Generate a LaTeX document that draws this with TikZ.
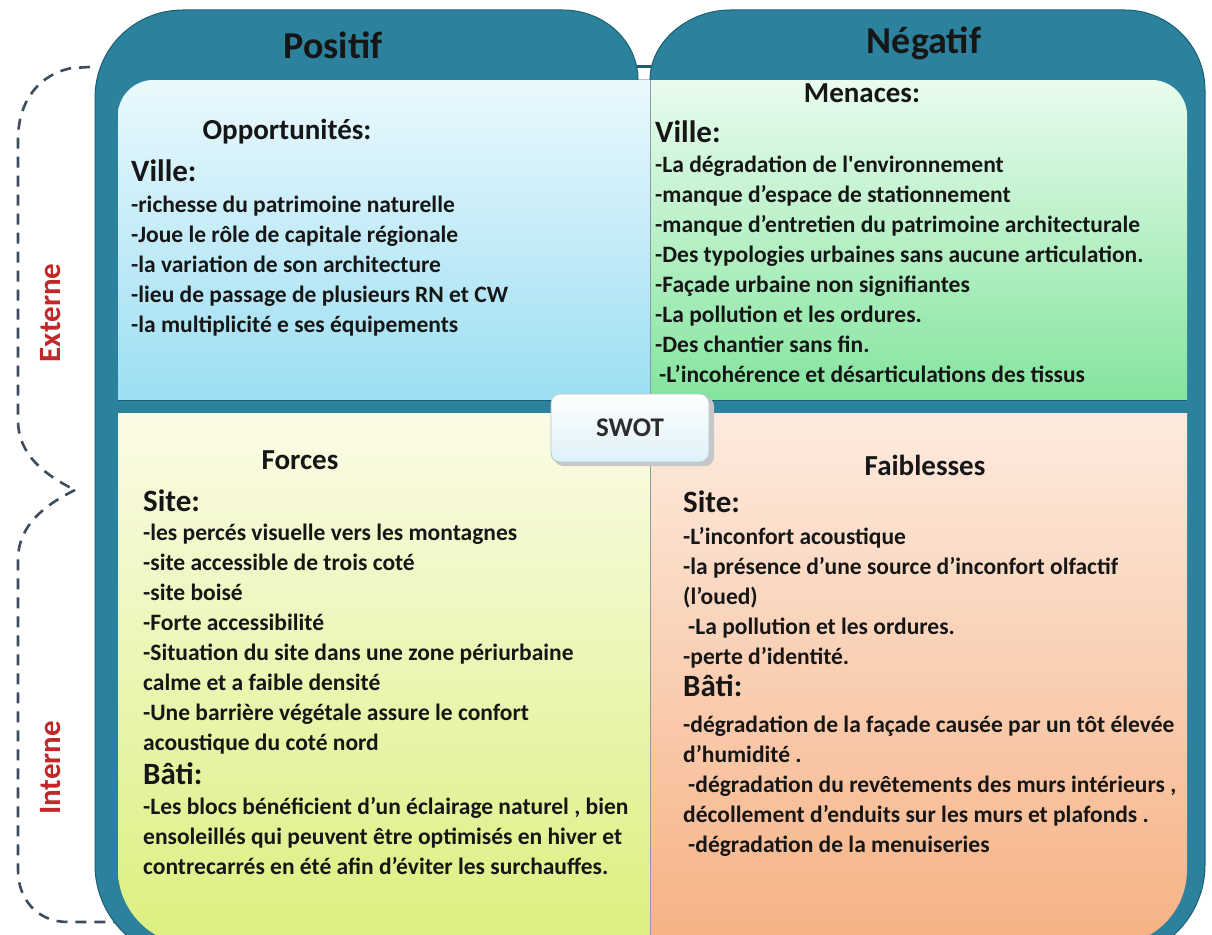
\documentclass[tikz,border=0pt]{standalone}
\usepackage{fontspec}
\setmainfont{Carlito}
\usepackage{xcolor}
\usepackage{tikz}
\definecolor{SWTeal}{HTML}{2C829C}
\definecolor{SWTealDark}{HTML}{1D5E71}
\definecolor{SWInk}{HTML}{161616}
\definecolor{SWRed}{HTML}{C0282A}
\definecolor{SWDash}{HTML}{3E4D5E}
\definecolor{SWLine}{HTML}{8C9CA2}
\definecolor{SWBlueTop}{HTML}{EAF9FD}
\definecolor{SWBlueBot}{HTML}{9CDEF2}
\definecolor{SWGreenTop}{HTML}{E9FCEE}
\definecolor{SWGreenBot}{HTML}{84E49E}
\definecolor{SWYellowTop}{HTML}{FBFBE6}
\definecolor{SWYellowBot}{HTML}{DCEF7E}
\definecolor{SWPeachTop}{HTML}{FDEBDF}
\definecolor{SWPeachBot}{HTML}{F6B184}
\definecolor{SWSwotBot}{HTML}{DDF1F8}
\definecolor{SWSwotEdge}{HTML}{B4C6CE}

\tikzset{
  tabtxt/.style={font=\bfseries\fontsize{38}{40}\selectfont,text=SWInk,inner sep=0pt},
  quadtxt/.style={font=\bfseries\fontsize{29}{32}\selectfont,text=SWInk,inner sep=0pt},
  subtxt/.style={font=\bfseries\fontsize{31}{34}\selectfont,text=SWInk,inner sep=0pt,anchor=base west},
  itemtxt/.style={font=\bfseries\fontsize{23.5}{30}\selectfont,text=SWInk,inner sep=0pt,align=left,anchor=base west},
  sidetxt/.style={font=\bfseries\fontsize{31}{34}\selectfont,text=SWRed,rotate=90,inner sep=0pt},
  bracket/.style={SWDash,line width=2.6pt,dash pattern=on 11pt off 8pt},
  swotbox/.style={rounded corners=9pt,minimum width=158pt,minimum height=68pt,top color=white,bottom color=SWSwotBot,draw=SWSwotEdge,line width=.8pt,font=\bfseries\fontsize{27}{30}\selectfont,text=SWInk!90}
}

\begin{document}
\begin{tikzpicture}[x=1pt,y=-1pt]
\path[use as bounding box] (0,0) rectangle (1212,934);
\clip (0,0) rectangle (1212,934);
\fill[white] (0,0) rectangle (1212,934);
% dashed brackets on the left
\coordinate (extTop) at (90,67);
\coordinate (split) at (75,490);
\coordinate (intEnd) at (118,922);
\draw[bracket] (extTop) -- (72,68) .. controls (40,74) and (18,100) .. (18,140) -- (18,420) .. controls (18,455) and (45,475) .. (split);
\draw[bracket] (split) .. controls (45,505) and (18,525) .. (18,560) -- (18,870) .. controls (18,900) and (38,922) .. (68,922) -- (intEnd);
\node[sidetxt] (ext) at (51,313) {Externe};
\node[sidetxt] (int) at (51,768) {Interne};
% teal frame with the two tabs
\fill[SWTeal,draw=SWTealDark,line width=1pt] (95,865) -- (95,98) .. controls (95,49) and (134,10) .. (183,10) -- (563,10) .. controls (604,10) and (638,41) .. (638,80) -- (650,80) .. controls (650,41) and (689,10) .. (730,10) -- (1125,10) .. controls (1169,10) and (1205,46) .. (1205,90) -- (1205,865) .. controls (1205,917) and (1162,960) .. (1110,960) -- (190,960) .. controls (138,960) and (95,917) .. (95,865) -- cycle;
\draw[SWTealDark,line width=3pt] (636,67) -- (652,67);
% four quadrants
\begin{scope}
\clip (118,115) .. controls (118,96) and (134,80) .. (153,80) -- (1152,80) .. controls (1171,80) and (1187,96) .. (1187,115) -- (1187,870) .. controls (1187,911) and (1154,945) .. (1112,945) -- (193,945) .. controls (152,945) and (118,911) .. (118,870) -- cycle;
\shade[top color=SWBlueTop,bottom color=SWBlueBot] (118,80) rectangle (650,400);
\shade[top color=SWGreenTop,bottom color=SWGreenBot] (650,80) rectangle (1187,400);
\shade[top color=SWYellowTop,bottom color=SWYellowBot] (118,413) rectangle (650,945);
\shade[top color=SWPeachTop,bottom color=SWPeachBot] (650,413) rectangle (1187,945);
\fill[SWTeal] (118,400) rectangle (1187,413);
\draw[SWTealDark,line width=1pt] (118,400) -- (1187,400);
\draw[SWLine,line width=.8pt] (650,80) -- (650,400);
\draw[SWLine,line width=.8pt] (650,413) -- (650,945);
\end{scope}
% centre label
\fill[black!22,rounded corners=9pt] (554,397) rectangle (714,466);
\node[swotbox] (swot) at (630,428) {SWOT};
% tab titles
\node[tabtxt] (pos) at (333,45) {Positif};
\node[tabtxt] (neg) at (924,43) {Négatif};
% opportunites (lists are placed by the baseline of their last line)
\node[quadtxt] (opp) at (287,132) {Opportunités:};
\node[subtxt] (oppVille) at (131,181) {Ville:};
\node[itemtxt] (oppList) at (131,332) {-richesse du patrimoine naturelle\\-Joue le rôle de capitale régionale\\-la variation de son architecture\\-lieu de passage de plusieurs RN et CW\\-la multiplicité e ses équipements};
% menaces
\node[quadtxt] (men) at (862,93) {Menaces:};
\node[subtxt] (menVille) at (655,142) {Ville:};
\node[itemtxt] (menList) at (655,382) {-La dégradation de l\textquotesingle environnement\\-manque d’espace de stationnement\\-manque d’entretien du patrimoine architecturale\\-Des typologies urbaines sans aucune articulation.\\-Façade urbaine non signifiantes\\-La pollution et les ordures.\\-Des chantier sans fin.\\\hspace*{4pt}-L’incohérence et désarticulations des tissus};
% forces
\node[quadtxt] (forc) at (300,460) {Forces};
\node[subtxt] (forcSite) at (143,511) {Site:};
\node[itemtxt] (forcSiteList) at (143,750) {-les percés visuelle vers les montagnes\\-site accessible de trois coté\\-site boisé\\-Forte accessibilité\\-Situation du site dans une zone périurbaine\\calme et a faible densité\\-Une barrière végétale assure le confort\\acoustique du coté nord};
\node[subtxt] (forcBati) at (143,784) {Bâti:};
\node[itemtxt] (forcBatiList) at (143,874) {-Les blocs bénéficient d’un éclairage naturel , bien\\ensoleillés qui peuvent être optimisés en hiver et\\contrecarrés en été afin d’éviter les surchauffes.};
% faiblesses
\node[quadtxt] (fai) at (925,465) {Faiblesses};
\node[subtxt] (faiSite) at (683,512) {Site:};
\node[itemtxt] (faiSiteList) at (683,664) {-L’inconfort acoustique\\-la présence d’une source d’inconfort olfactif\\(l’oued)\\\hspace*{5pt}-La pollution et les ordures.\\-perte d’identité.};
\node[subtxt] (faiBati) at (683,696) {Bâti:};
\node[itemtxt] (faiBatiList) at (683,852) {-dégradation de la façade causée par un tôt élevée\\d’humidité .\\\hspace*{5pt}-dégradation du revêtements des murs intérieurs ,\\décollement d’enduits sur les murs et plafonds .\\\hspace*{5pt}-dégradation de la menuiseries};
\end{tikzpicture}
\end{document}
